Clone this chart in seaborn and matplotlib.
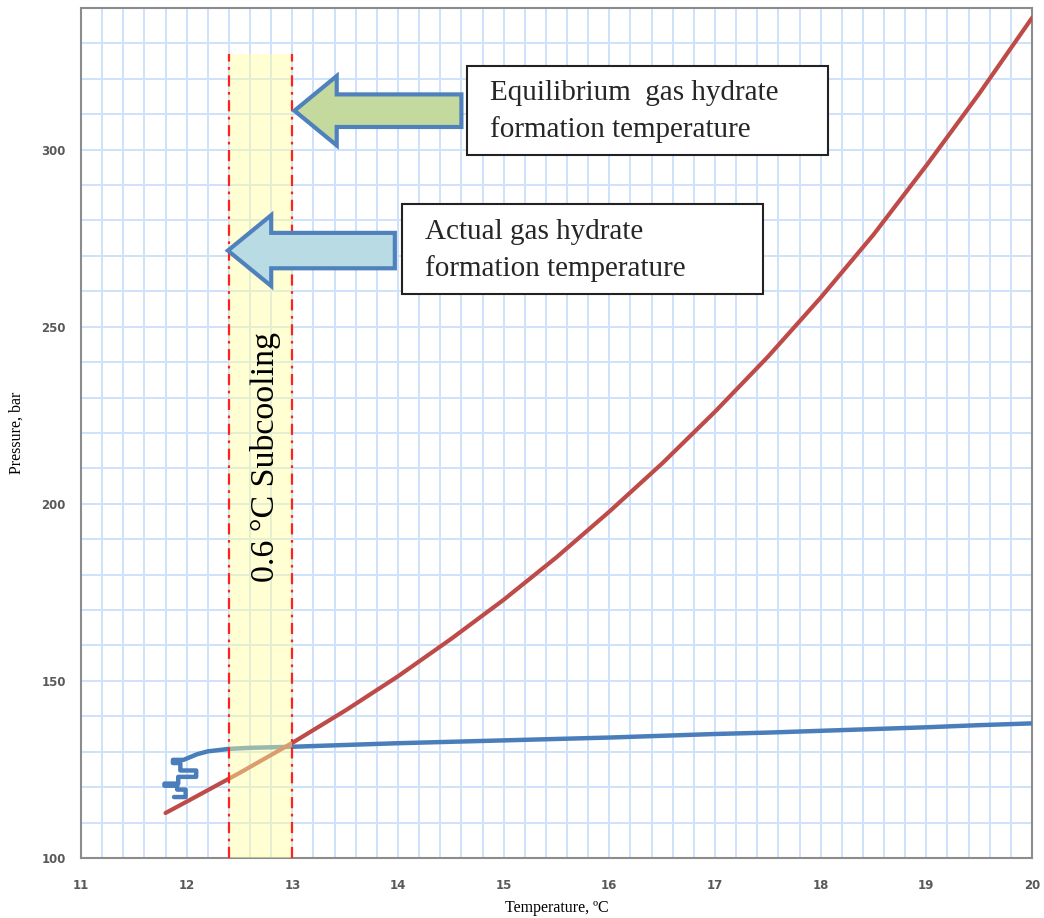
import numpy as np
import pandas as pd
import matplotlib
matplotlib.use("Agg")
import matplotlib.pyplot as plt
from matplotlib.patches import Polygon
from matplotlib.ticker import MultipleLocator
import seaborn as sns

# Equilibrium hydrate curve (temperature, degC / pressure, bar)
eq_temp = [11.8, 12.0, 12.5, 13.0, 13.5, 14.0, 14.5, 15.0, 15.5, 16.0,
           16.5, 17.0, 17.5, 18.0, 18.5, 19.0, 19.5, 20.0]
eq_pres = [112.7, 115.9, 124.0, 132.5, 141.6, 151.3, 161.8, 172.9, 184.9, 197.8,
           211.4, 226.0, 241.5, 258.2, 276.0, 295.5, 315.8, 337.2]

# Measured process path (temperature, degC / pressure, bar)
pr_temp = [11.88, 11.99, 11.99, 11.91, 11.91, 11.79, 11.79, 11.92, 11.92, 12.09,
           12.09, 11.94, 11.94, 11.87, 11.87, 11.97, 12.1, 12.2, 12.4, 12.6,
           13.0, 13.5, 14.0, 14.5, 15.0, 15.5, 16.0, 16.5, 17.0, 17.5,
           18.0, 18.5, 19.0, 19.5, 20.0]
pr_pres = [117.2, 117.2, 119.3, 119.3, 120.4, 120.4, 121.0, 121.0, 122.9, 122.9,
           124.7, 124.7, 126.8, 126.8, 127.7, 127.7, 129.3, 130.1, 130.8, 131.1,
           131.4, 131.9, 132.4, 132.8, 133.2, 133.6, 134.0, 134.5, 135.0, 135.4,
           135.9, 136.4, 136.9, 137.5, 138.0]

actual_T = 12.4
equil_T = 13.0
band_top = 327.0
arrow_eq_P = 311.0
arrow_act_P = 271.5

eq_df = pd.DataFrame({"T": eq_temp, "P": eq_pres})
pr_df = pd.DataFrame({"T": pr_temp, "P": pr_pres})

sns.set_theme(style="white")
serif = ["Liberation Serif", "DejaVu Serif"]

fig = plt.figure(figsize=(10.44, 9.18), dpi=100)
ax = fig.add_axes([0.0776, 0.0654, 0.9109, 0.9259])

ax.set_xlim(11, 20)
ax.set_ylim(100, 340)

ax.xaxis.set_major_locator(MultipleLocator(1))
ax.xaxis.set_minor_locator(MultipleLocator(0.2))
ax.yaxis.set_major_locator(MultipleLocator(50))
ax.yaxis.set_minor_locator(MultipleLocator(10))
ax.grid(True, which="both", color="#CDE3FB", linewidth=1.4, zorder=0)
ax.set_axisbelow(True)

sns.lineplot(data=pr_df, x="T", y="P", sort=False, estimator=None, ax=ax,
             color="#4A7EBB", linewidth=3.2, zorder=3)
sns.lineplot(data=eq_df, x="T", y="P", sort=False, estimator=None, ax=ax,
             color="#BE4B48", linewidth=3.0, zorder=3)

# Subcooling band
ax.fill_between([actual_T, equil_T], 100, band_top, color="#FFFF9E",
                alpha=0.45, linewidth=0, zorder=4)
for xv in (actual_T, equil_T):
    ax.plot([xv, xv], [100, band_top], color="#FF2020", linewidth=1.6,
            linestyle=(0, (5, 2.5, 1.2, 2.5)), zorder=5)

ax.text(12.75, 213.3, "0.6 \u00b0C Subcooling", rotation=90, ha="center",
        va="center", fontsize=24.5, family=serif, color="black", zorder=6)


def block_arrow(tip_x, tip_y, head_len, head_half, body_half, tail_x, face):
    pts = [(tip_x, tip_y),
           (tip_x + head_len, tip_y + head_half),
           (tip_x + head_len, tip_y + body_half),
           (tail_x, tip_y + body_half),
           (tail_x, tip_y - body_half),
           (tip_x + head_len, tip_y - body_half),
           (tip_x + head_len, tip_y - head_half)]
    ax.add_patch(Polygon(pts, closed=True, facecolor=face, edgecolor="#4F81BD",
                         linewidth=3, joinstyle="miter", zorder=6))


block_arrow(equil_T + 0.02, arrow_eq_P, 0.40, 9.8, 4.6, 14.6, "#C3D99E")
block_arrow(actual_T - 0.01, arrow_act_P, 0.41, 10.0, 5.0, 13.97, "#B9DCE4")


def text_box(x0, y0, x1, y1, lines, tx, ty):
    ax.add_patch(plt.Rectangle((x0, y0), x1 - x0, y1 - y0, transform=None,
                               facecolor="white", edgecolor="#222222",
                               linewidth=1.5, zorder=7))
    ax.text(tx, ty, lines, transform=None, ha="left", va="top", fontsize=21,
            family=serif, linespacing=1.5, zorder=8)


def px(xp, yp):
    return xp, 918 - yp


x0, y0 = px(467, 155)
x1, y1 = px(828, 66)
text_box(x0, y0, x1, y1, "Equilibrium  gas hydrate\nformation temperature",
         *px(490, 80))
x0, y0 = px(402, 294)
x1, y1 = px(763, 204)
text_box(x0, y0, x1, y1, "Actual gas hydrate\nformation temperature",
         *px(425, 219))

for s in ax.spines.values():
    s.set_color("#8C8C8C")
    s.set_linewidth(1.5)
    s.set_visible(True)

ax.tick_params(axis="both", which="major", direction="out", length=5,
               width=1.2, color="#8C8C8C", labelsize=8.5,
               labelcolor="#595959")
ax.tick_params(axis="x", which="major", pad=10)
ax.tick_params(axis="y", which="major", pad=6)
ax.tick_params(axis="both", which="minor", length=0)
for lab in ax.get_xticklabels() + ax.get_yticklabels():
    lab.set_fontweight("bold")

ax.set_xlabel("Temperature, \u00baC", fontsize=11.5, family=serif,
              color="black", labelpad=6)
ax.set_ylabel("Pressure, bar", fontsize=11.5, family=serif, color="black",
              labelpad=12)

fig.savefig("out.png", dpi=100, facecolor="white")
